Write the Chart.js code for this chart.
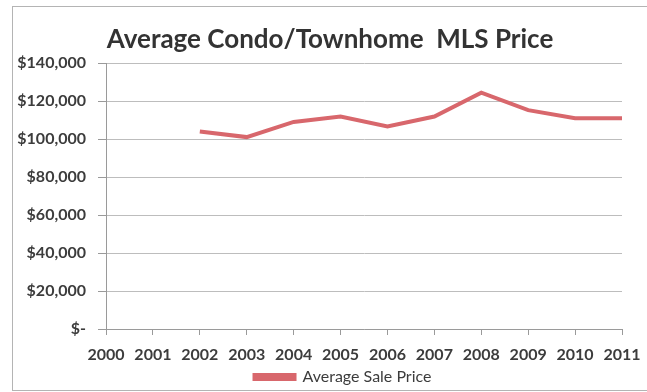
<!DOCTYPE html>
<html>
<head>
<meta charset="utf-8">
<script src="https://cdn.jsdelivr.net/npm/chart.js@4"></script>
<style>
    html, body { margin: 0; padding: 0; background: #fff; }
    #wrap { position: relative; width: 647px; height: 392px; }
</style>
</head>
<body>
<div id="wrap"><canvas id="priceChart" width="647" height="392"></canvas></div>
<script>
// Average condo/townhome MLS sale price by year
const years = ['2000', '2001', '2002', '2003', '2004', '2005', '2006', '2007', '2008', '2009', '2010', '2011'];
const avgSalePrice = [null, null, 104000, 101000, 109000, 111800, 106600, 111800, 124400, 115200, 110900, 110900];
const yTicks = [0, 20000, 40000, 60000, 80000, 100000, 120000, 140000];
const chartTitle = 'Average Condo/Townhome  MLS Price';

const lineColor = '#d8676c';
const textColor = '#3c3c3c';
const fontFamily = 'Lato, "Open Sans", sans-serif';

// Light frame around the whole chart, plus the heading
const frame = {
    id: 'frame',
    afterLayout(chart) {
        // nudge the legend a bit right so it sits under the title
        if (chart.legend) {
            chart.legend.left += 26;
            chart.legend.right += 26;
        }
    },
    beforeDraw(chart) {
        const ctx = chart.ctx;
        ctx.save();
        ctx.strokeStyle = '#b4b4b4';
        ctx.lineWidth = 1;
        ctx.strokeRect(12.5, 6.5, 700, 384);
        ctx.restore();
    },
    afterDraw(chart) {
        const ctx = chart.ctx;
        ctx.save();
        ctx.fillStyle = '#333';
        ctx.font = 'bold 26px ' + fontFamily;
        ctx.textAlign = 'center';
        ctx.textBaseline = 'middle';
        ctx.fillText(chartTitle, 330, 40);
        ctx.restore();
    }
};

const ctx = document.getElementById('priceChart').getContext('2d');
new Chart(ctx, {
    type: 'line',
    data: {
        labels: years,
        datasets: [{
            label: 'Average Sale Price',
            data: avgSalePrice,
            borderColor: lineColor,
            backgroundColor: lineColor,
            borderWidth: 4,
            pointRadius: 0,
            tension: 0
        }]
    },
    plugins: [frame],
    options: {
        responsive: false,
        animation: false,
        layout: { padding: { left: 12, right: 25, top: 63, bottom: -3 } },
        plugins: {
            title: { display: false },
            legend: {
                display: true,
                position: 'bottom',
                labels: {
                    color: textColor,
                    font: { family: fontFamily, size: 16, lineHeight: 1 },
                    boxWidth: 40,
                    boxHeight: 4,
                    padding: 0
                }
            },
            tooltip: { enabled: false }
        },
        scales: {
            x: {
                offset: false,
                afterFit(scale) {
                    scale.height = 40;
                    scale.paddingLeft = 0;
                    scale.paddingRight = 0;
                },
                grid: {
                    drawOnChartArea: false,
                    drawTicks: true,
                    tickLength: 6,
                    color: '#9a9a9a'
                },
                border: { display: true, color: '#9a9a9a' },
                ticks: {
                    color: textColor,
                    font: { family: fontFamily, size: 16, weight: 'bold' },
                    maxRotation: 0,
                    autoSkip: false,
                    padding: 10
                }
            },
            y: {
                min: 0,
                max: 140000,
                afterFit(scale) { scale.width = 94; },
                afterBuildTicks(scale) { scale.ticks = yTicks.map(v => ({ value: v })); },
                grid: {
                    color: '#bdbdbd',
                    tickLength: 8,
                    tickColor: '#9a9a9a'
                },
                border: { display: true, color: '#9a9a9a' },
                ticks: {
                    color: textColor,
                    font: { family: fontFamily, size: 16, weight: 'bold' },
                    padding: 12,
                    callback: v => v === 0 ? '$-' : '$' + v.toLocaleString('en-US')
                }
            }
        }
    }
});
</script>
</body>
</html>
